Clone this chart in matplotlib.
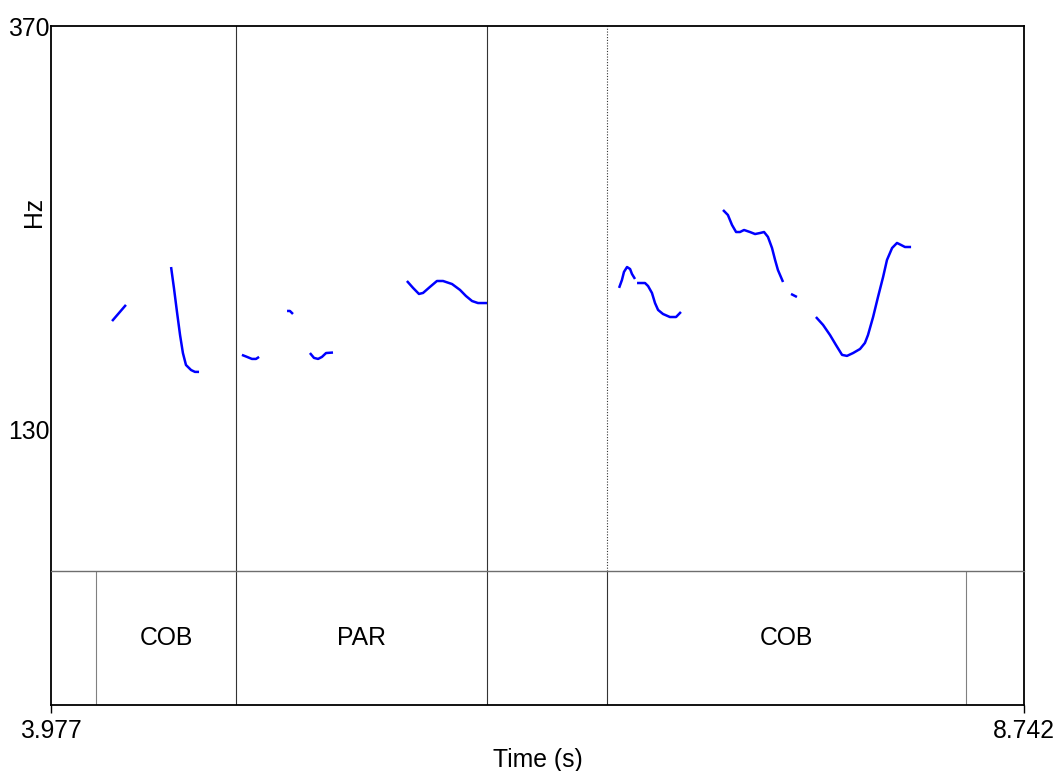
import matplotlib
matplotlib.use("Agg")
import matplotlib.pyplot as plt
import numpy as np

plt.rcParams['font.family'] = ['Liberation Sans', 'DejaVu Sans']

# ---- data ----
t_min, t_max = 3.977, 8.742
hz_top, hz_mark = 370, 130
hz_bottom = 46.2

seg1_t = [4.276, 4.310, 4.344]
seg1_hz = [194.7, 199.5, 204.3]
seg2_t = [4.565, 4.579, 4.594, 4.609, 4.623, 4.638, 4.663, 4.682, 4.702]
seg2_hz = [226.8, 214.4, 200.1, 186.4, 175.7, 168.6, 165.6, 164.5, 164.5]
seg3_t = [4.912, 4.937, 4.961, 4.981, 4.996]
seg3_hz = [174.6, 173.4, 172.2, 172.2, 173.4]
seg4_t = [5.133, 5.147, 5.162]
seg4_hz = [200.7, 200.7, 198.9]
seg5_t = [5.245, 5.265, 5.285, 5.304, 5.324, 5.358]
seg5_hz = [175.7, 172.8, 172.2, 173.4, 175.7, 176.0]
seg6_t = [5.720, 5.750, 5.779, 5.799, 5.833, 5.867, 5.897, 5.941, 5.980, 6.009, 6.039, 6.068, 6.117]
seg6_hz = [218.5, 214.4, 210.8, 211.4, 215.0, 218.5, 218.5, 216.7, 213.2, 209.6, 206.6, 205.4, 205.4]
seg7_t = [6.759, 6.773, 6.783, 6.798, 6.813, 6.822, 6.837]
seg7_hz = [214.4, 219.1, 223.9, 226.8, 225.6, 222.7, 219.7]
seg8_t = [6.847, 6.871, 6.886, 6.901, 6.920, 6.935, 6.950, 6.974, 7.008, 7.038, 7.062]
seg8_hz = [217.3, 217.3, 217.3, 215.5, 211.4, 205.4, 201.3, 198.9, 197.1, 197.1, 200.1]
seg9_t = [7.268, 7.292, 7.312, 7.332, 7.351, 7.371, 7.400, 7.425, 7.449, 7.469, 7.488, 7.508, 7.523, 7.537, 7.562]
seg9_hz = [260.7, 257.7, 251.8, 247.6, 247.6, 248.8, 247.6, 246.4, 247.0, 247.6, 244.7, 238.1, 231.0, 225.0, 217.9]
seg10_t = [7.601, 7.630]
seg10_hz = [210.8, 209.0]
seg11_t = [7.723, 7.758, 7.792, 7.821, 7.851, 7.875, 7.905, 7.939, 7.963, 7.978, 8.003, 8.027, 8.052, 8.071, 8.096, 8.120, 8.140, 8.159, 8.189]
seg11_hz = [197.1, 192.4, 186.4, 180.5, 174.6, 174.0, 175.7, 178.1, 181.7, 186.4, 197.1, 209.0, 220.9, 231.0, 238.1, 241.1, 239.9, 238.7, 238.7]

segments_t = [seg1_t, seg2_t, seg3_t, seg4_t, seg5_t, seg6_t, seg7_t, seg8_t, seg9_t, seg10_t, seg11_t]
segments_hz = [seg1_hz, seg2_hz, seg3_hz, seg4_hz, seg5_hz, seg6_hz, seg7_hz, seg8_hz, seg9_hz, seg10_hz, seg11_hz]

boundaries = [4.197, 4.883, 6.112, 6.700, 8.458]
interval_labels = ["", "COB", "PAR", "", "COB", ""]

# ---- figure ----
W, H = 1059, 771
fig = plt.figure(figsize=(W / 100, H / 100), dpi=100)

L, R = 51, 1024
T, M, B = 26, 571, 705

ax = fig.add_axes([L / W, 1 - M / H, (R - L) / W, (M - T) / H])
axt = fig.add_axes([L / W, 1 - B / H, (R - L) / W, (B - M) / H], sharex=ax)
axt.patch.set_visible(False)

FS = 17.8
frame_lw = 1.3

ax.set_xlim(t_min, t_max)
ax.set_ylim(hz_bottom, hz_top)
for t, hz in zip(segments_t, segments_hz):
    ax.plot(t, hz, color=(0, 0, 1), lw=1.8, solid_capstyle='butt', solid_joinstyle='round')

for s in ['left', 'top', 'right']:
    ax.spines[s].set_linewidth(frame_lw)
    ax.spines[s].set_color('black')
ax.spines['bottom'].set_visible(False)

ax.set_yticks([hz_mark, hz_top])
ax.set_yticklabels([str(hz_mark), str(hz_top)], fontsize=FS)
ax.tick_params(axis='y', length=0, pad=1)
ax.tick_params(axis='x', length=0, labelbottom=False)
ax.text(-0.0175, (M - 212) / (M - T), "Hz", transform=ax.transAxes, rotation=90,
        ha='center', va='center', fontsize=FS)

# boundaries through the pitch area
ax.axvline(boundaries[1], color='#333333', lw=0.8)
ax.axvline(boundaries[2], color='#333333', lw=0.8)
ax.axvline(boundaries[3], color='#333333', lw=0.8, ls=(0, (1, 1.5)))

# ---- tier ----
axt.set_ylim(0, 1)
axt.spines['top'].set_linewidth(1.0)
axt.spines['top'].set_color('#6e6e6e')
for s in ['left', 'bottom', 'right']:
    axt.spines[s].set_linewidth(frame_lw)
    axt.spines[s].set_color('black')
for b in boundaries:
    c = '#333333' if b in boundaries[1:4] else '#808080'
    axt.axvline(b, color=c, lw=0.8)
edges = [t_min] + boundaries + [t_max]
for i, lab in enumerate(interval_labels):
    if lab:
        axt.text((edges[i] + edges[i + 1]) / 2, 0.5, lab, ha='center', va='center', fontsize=FS)
axt.set_yticks([])
axt.set_xticks([t_min, t_max])
axt.set_xticklabels(["%.3f" % t_min, "%.3f" % t_max], fontsize=FS)
axt.tick_params(axis='x', length=6, width=1.0, pad=4, direction='out')
axt.set_xlabel("Time (s)", fontsize=FS, labelpad=4)

fig.savefig("out.png", dpi=100)
